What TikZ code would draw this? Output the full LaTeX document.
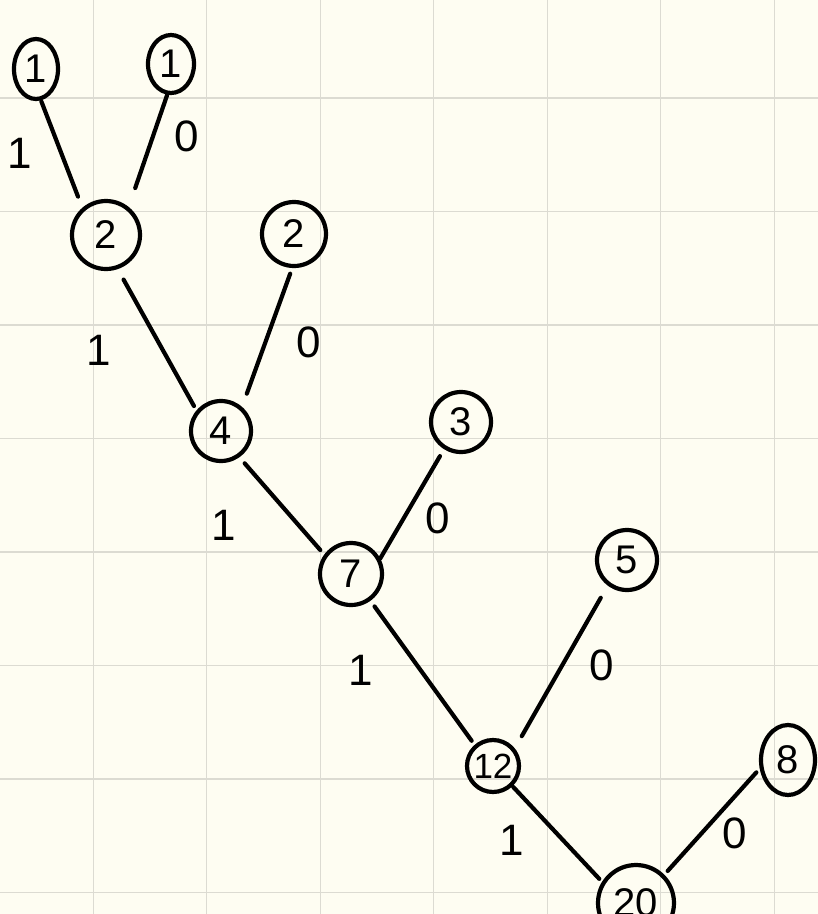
\documentclass[tikz,border=0pt]{standalone}
\usepackage{fontspec}
\setmainfont{Liberation Sans}
\usetikzlibrary{shapes.geometric}
\definecolor{paper}{HTML}{FEFDF2}
\definecolor{gridc}{HTML}{DCDBD2}
\begin{document}
\begin{tikzpicture}[x=1pt,y=-1pt,
  nd/.style={circle,draw=black,line width=4.2pt,inner sep=0pt,font=\fontsize{40}{40}\selectfont},
  nde/.style={ellipse,draw=black,line width=4.2pt,inner sep=0pt,font=\fontsize{40}{40}\selectfont},
  edge/.style={draw=black,line width=4.2pt,line cap=round},
  lbl/.style={font=\fontsize{44}{44}\selectfont,inner sep=0pt},
  gridline/.style={draw=gridc,line width=1.3pt}]
\fill[paper] (0,0) rectangle (818,914);
\useasboundingbox (0,0) rectangle (818,914);
\clip (0,0) rectangle (818,914);
\foreach \g in {93.3,206.8,320.3,433.8,547.3,660.8,774.3}{
  \draw[gridline] (\g,0) -- (\g,914);}
\foreach \g in {98,211.5,325,438.5,552,665.5,779,892.5}{
  \draw[gridline] (0,\g) -- (818,\g);}
% nodes
\node[nde,minimum width=44pt,minimum height=60pt] (n1a) at (36,69) {1};
\node[nde,minimum width=46pt,minimum height=58pt] (n1b) at (171,64) {1};
\node[nd,minimum size=68pt] (n2a) at (106,235) {2};
\node[nd,minimum size=64pt] (n2b) at (294,234) {2};
\node[nd,minimum size=60pt] (n4) at (221,431) {4};
\node[nd,minimum size=60pt] (n3) at (461,422) {3};
\node[nd,minimum size=62pt] (n7) at (351,574) {7};
\node[nd,minimum size=60pt] (n5) at (627,560) {5};
\node[nd,minimum size=52pt,font=\fontsize{35}{35}\selectfont] (n12) at (493,766) {12};
\node[nde,minimum width=54pt,minimum height=70pt] (n8) at (788,760) {8};
\node[nd,minimum size=76pt] (n20) at (636,903) {20};
% edges
\draw[edge,shorten <=1pt,shorten >=12pt] (n1a.-81) -- (n2a.131.5);
\draw[edge,shorten <=0pt,shorten >=20pt] (n1b.-97.6) -- (n2a.51);
\draw[edge,shorten <=12pt,shorten >=5pt] (n2a.-71.6) -- (n4.140.6);
\draw[edge,shorten <=6pt,shorten >=14pt] (n2b.-93) -- (n4.49.5);
\draw[edge,shorten <=8pt,shorten >=6pt] (n4.-55.5) -- (n7.144.6);
\draw[edge,shorten <=8pt,shorten >=0pt] (n3.-122.5) -- (n7.28);
\draw[edge,shorten <=7pt,shorten >=5pt] (n7.-54) -- (n12.131);
\draw[edge,shorten <=14pt,shorten >=14pt] (n5.-127) -- (n12.39);
\draw[edge,shorten <=1pt,shorten >=4pt] (n12.-46.5) -- (n20.148);
\draw[edge,shorten <=5pt,shorten >=5pt] (n8.-163.6) -- (n20.45);
% labels
\node[lbl] (l1) at (20,153) {1};
\node[lbl] (l2) at (187,136) {0};
\node[lbl] (l3) at (99,350) {1};
\node[lbl] (l4) at (309,342) {0};
\node[lbl] (l5) at (224,525) {1};
\node[lbl] (l6) at (438,518) {0};
\node[lbl] (l7) at (361,670) {1};
\node[lbl] (l8) at (602,665) {0};
\node[lbl] (l9) at (512,840) {1};
\node[lbl] (l10) at (735,833) {0};
\end{tikzpicture}
\end{document}
